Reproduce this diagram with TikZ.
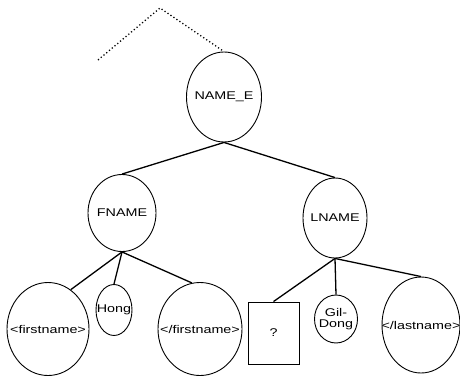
\documentclass[tikz,border=0pt]{standalone}
\usepackage{fontspec}
\setmainfont{Liberation Sans}[FakeStretch=1.28]
\usetikzlibrary{shapes.geometric}
\newcommand{\zw}[1]{\makebox[0pt]{#1}}
\begin{document}
\begin{tikzpicture}[x=1pt,y=-1pt,
  every node/.style={font=\fontsize{11.2}{12.5}\selectfont, inner sep=0pt},
  ell/.style={draw, line width=0.9pt, ellipse},
  edge/.style={line width=1.3pt},
  dotline/.style={line width=1.3pt, dash pattern=on 1.2pt off 2.4pt}]
\useasboundingbox (0,0) rectangle (460,378);
% nodes
\node[ell, minimum width=75pt, minimum height=90pt] (ne) at (224,97) {\zw{NAME\_E}};
\node[ell, minimum width=68pt, minimum height=77pt] (fn) at (122,213) {\zw{FNAME}};
\node[ell, minimum width=64pt, minimum height=80pt] (ln) at (335,218) {\zw{LNAME}};
\node[ell, minimum width=82pt, minimum height=93pt] (fo) at (48,329) {\zw{<firstname>}};
\node[ell, minimum width=36pt, minimum height=51pt] (hg) at (114,310) {\zw{Hong}};
\node[ell, minimum width=84pt, minimum height=93pt] (fc) at (200,329) {\zw{</firstname>}};
\node[draw, line width=0.9pt, rectangle, minimum width=51pt, minimum height=62pt] (q) at (273.5,333) {?};
\node[ell, minimum width=43pt, minimum height=48pt] (gd) at (336,319) {\zw{\shortstack{Gil-\\Dong}}};
\node[ell, minimum width=78pt, minimum height=96pt] (lc) at (421,325) {\zw{</lastname>}};
% dotted parent
\coordinate (top) at (160,8);
\coordinate (lft) at (98,60);
\draw[dotline] (lft) -- (top) -- (ne.north);
% edges
\draw[edge] (ne.south) -- (fn.north);
\draw[edge] (ne.south) -- (ln.north);
\draw[edge] (fn.south) -- (fo.60);
\draw[edge] (fn.south) -- (hg.north);
\draw[edge] (fn.south) -- (fc.100);
\draw[edge] (ln.south) -- (q.north);
\draw[edge] (ln.south) -- (gd.north);
\draw[edge] (ln.south) -- (lc.north);
\end{tikzpicture}
\end{document}
